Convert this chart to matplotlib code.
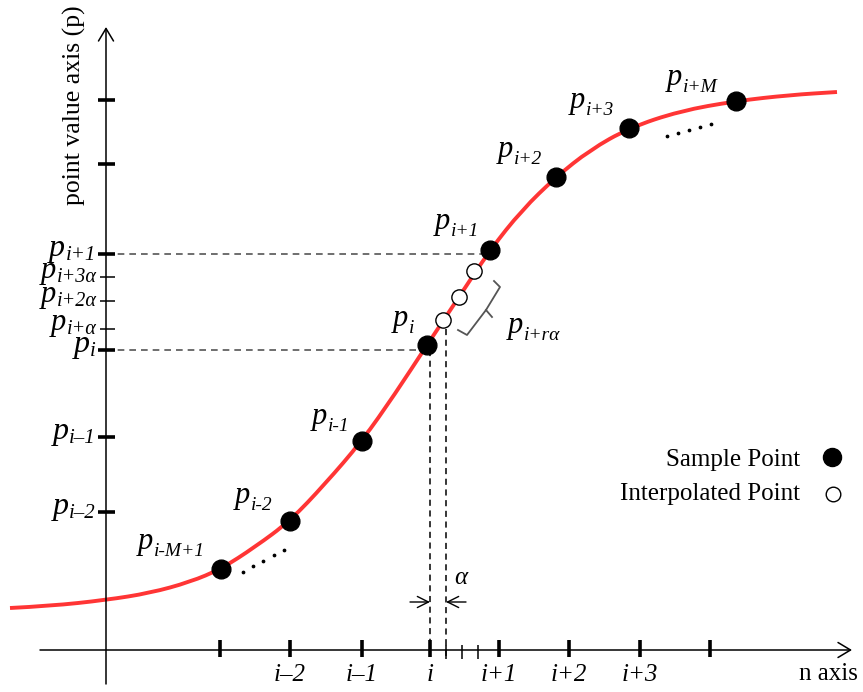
import matplotlib
matplotlib.use("Agg")
import matplotlib.pyplot as plt
from matplotlib.path import Path
from matplotlib.patches import PathPatch

plt.rcParams['font.family'] = ['Liberation Serif', 'DejaVu Serif']

# diagram coordinates (x to the right, y downward, same frame as the picture)
curve_x = [10, 50, 106, 150, 190, 221, 255, 290, 325, 362, 395, 427, 459,
           490, 522, 556, 590, 629, 680, 736, 790, 837]
curve_y = [608, 606, 600, 593, 582, 569, 547, 521, 484, 441, 394, 345, 297,
           250, 210, 177, 150, 128, 111, 101, 95, 92]

sample_x = [221, 290, 362, 427, 490, 556, 629, 736]
sample_y = [569, 521, 441, 345, 250, 177, 128, 101]
sample_subs = ['i-M+1', 'i-2', 'i-1', 'i', 'i+1', 'i+2', 'i+3', 'i+M']
sample_lab_x = [138, 235, 312, 393, 435, 498, 570, 667]
sample_lab_y = [549, 503, 424, 326, 229, 157, 108, 85]

interp_x = [443, 459, 474]
interp_y = [320, 297, 271]

xtick_major = [220, 290, 362, 430, 499, 569, 640, 710]
xtick_labels = ['', 'i\u20132', 'i\u20131', 'i', 'i+1', 'i+2', 'i+3', '']
xtick_minor = [446, 462, 478]

ytick_major = [100, 164, 254, 350, 437, 512]
ytick_labels = ['', '', 'i+1', 'i', 'i\u20131', 'i\u20132']
ytick_minor = [277, 301, 329]
ytick_minor_labels = ['i+3\u03b1', 'i+2\u03b1', 'i+\u03b1']

dots_x = [243, 253, 263, 274, 284, 667, 678, 689, 700, 711]
dots_y = [572, 566, 561, 555, 550, 136, 133, 130, 127, 124]

brace_x = [458, 467, 486, 500, 494]
brace_y = [330, 335, 310, 287, 281]

fig = plt.figure(figsize=(8.63, 6.92), dpi=100)
ax = fig.add_axes([0, 0, 1, 1])
ax.set_xlim(0, 863)
ax.set_ylim(692, 0)
ax.axis('off')


def plabel(x, y, sub, size=22, subsize=14, ha='left'):
    # big italic p with a smaller italic subscript set a bit lower
    if ha == 'left':
        t = ax.text(x, y, 'p', fontsize=size, style='italic', ha='left', va='baseline')
        ax.annotate(sub, xy=(1, 0), xycoords=t, xytext=(0.5, 0.6 * size * 0.21 - 2.5),
                    textcoords='offset points', fontsize=subsize, style='italic',
                    ha='left', va='baseline')
    else:
        s = ax.text(x, y + 5, sub, fontsize=subsize, style='italic', ha='right', va='baseline')
        ax.annotate('p', xy=(0, 0), xycoords=s, xytext=(-0.5, subsize * 0.21 + 3.5),
                    textcoords='offset points', fontsize=size, style='italic',
                    ha='right', va='baseline')


def smooth_path(xs, ys):
    # quadratic bezier through the read points (points used as control points)
    pts = list(zip(xs, ys))
    verts = [pts[0]]
    codes = [Path.MOVETO]
    for k in range(1, len(pts) - 1):
        mid = ((pts[k][0] + pts[k + 1][0]) / 2, (pts[k][1] + pts[k + 1][1]) / 2)
        verts += [pts[k], mid]
        codes += [Path.CURVE3, Path.CURVE3]
    verts.append(pts[-1])
    codes.append(Path.LINETO)
    return Path(verts, codes)


# axes with open arrow heads
ax.annotate('', xy=(852, 650), xytext=(40, 650),
            arrowprops=dict(arrowstyle='->,head_length=0.5,head_width=0.3', lw=1.1,
                            color='k', shrinkA=0, shrinkB=0, mutation_scale=18))
ax.annotate('', xy=(106, 27), xytext=(106, 684),
            arrowprops=dict(arrowstyle='->,head_length=0.5,head_width=0.3', lw=1.1,
                            color='k', shrinkA=0, shrinkB=0, mutation_scale=18))

# guide lines
ax.plot([106, sample_x[4]], [ytick_major[2]] * 2, ls=(0, (4, 3)), color='#555555', lw=1.2)
ax.plot([106, sample_x[3]], [ytick_major[3]] * 2, ls=(0, (4, 3)), color='#555555', lw=1.2)
ax.plot([xtick_major[3]] * 2, [ytick_major[3], 658], ls=(0, (4, 3)), color='k', lw=1.1)
ax.plot([xtick_minor[0]] * 2, [ytick_minor[2], 658], ls=(0, (4, 3)), color='k', lw=1.1)

# ticks
for x in xtick_major:
    ax.plot([x, x], [640, 657], color='k', lw=2.6, solid_capstyle='butt')
for x in xtick_minor:
    ax.plot([x, x], [645, 659], color='k', lw=1.1, solid_capstyle='butt')
for y in ytick_major:
    ax.plot([98, 115], [y, y], color='k', lw=2.6, solid_capstyle='butt')
for y in ytick_minor:
    ax.plot([100, 115], [y, y], color='k', lw=1.1, solid_capstyle='butt')

for x, lab in zip(xtick_major, xtick_labels):
    if lab:
        ax.text(x, 681, lab, fontsize=18, style='italic', ha='center', va='baseline')
ax.text(858, 680, 'n axis', fontsize=18, ha='right', va='baseline')
ax.text(74, 105, 'point value axis (p)', fontsize=18.5, rotation=90, ha='center', va='center')

for y, lab in zip(ytick_major, ytick_labels):
    if lab:
        plabel(96, y + 1, lab, size=23, subsize=15, ha='right')
for y, lab in zip(ytick_minor, ytick_minor_labels):
    plabel(97, y, lab, size=22, subsize=14.5, ha='right')

# curve and points
ax.add_patch(PathPatch(smooth_path(curve_x, curve_y), fill=False, edgecolor='#ff3535',
                       lw=2.8, zorder=2))
ax.plot(sample_x, sample_y, 'o', ms=13.5, color='k', zorder=4)
ax.plot(interp_x, interp_y, 'o', ms=11, mfc='white', mec='k', mew=1.0, zorder=4)
ax.plot(dots_x, dots_y, ls='none', marker='o', ms=1.7, color='k')

for x, y, lab in zip(sample_lab_x, sample_lab_y, sample_subs):
    plabel(x, y, lab, size=22, subsize=14)

# bracket for the interpolated points
ax.plot(brace_x, brace_y, color='#555555', lw=1.3)
ax.plot([486, 492], [310, 317], color='#555555', lw=1.3)
plabel(508, 333, 'i+r\u03b1', size=22, subsize=14)

# alpha spacing arrows
ax.annotate('', xy=(xtick_major[3], 602), xytext=(410, 602),
            arrowprops=dict(arrowstyle='->,head_length=0.5,head_width=0.25', lw=1.0,
                            color='k', shrinkA=0, shrinkB=0, mutation_scale=16))
ax.annotate('', xy=(xtick_minor[0], 602), xytext=(466, 602),
            arrowprops=dict(arrowstyle='->,head_length=0.5,head_width=0.25', lw=1.0,
                            color='k', shrinkA=0, shrinkB=0, mutation_scale=16))
ax.text(461, 584, '\u03b1', fontsize=18, style='italic', ha='center', va='baseline')

# legend
ax.text(800, 466, 'Sample Point', fontsize=18, ha='right', va='baseline')
ax.text(800, 500, 'Interpolated Point', fontsize=18, ha='right', va='baseline')
ax.plot([832], [457], 'o', ms=13, color='k')
ax.plot([833], [494], 'o', ms=10.5, mfc='white', mec='k', mew=1.0)

fig.savefig('out.png', dpi=100)
